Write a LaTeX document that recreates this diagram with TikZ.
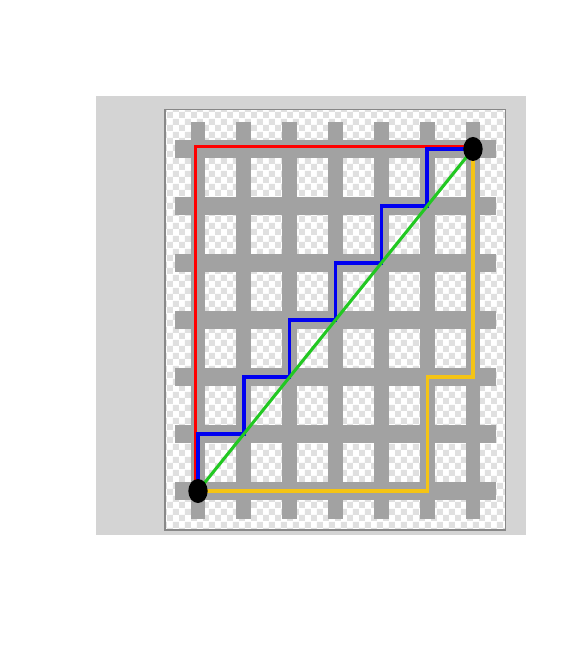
\documentclass[tikz,border=0pt]{standalone}
\usetikzlibrary{patterns.meta}
\definecolor{panelgray}{RGB}{212,212,212}
\definecolor{checkgray}{RGB}{224,224,224}
\definecolor{bargray}{RGB}{162,162,162}
\definecolor{framegray}{RGB}{136,136,136}
\definecolor{pathred}{RGB}{255,0,0}
\definecolor{pathblue}{RGB}{0,0,240}
\definecolor{pathgreen}{RGB}{34,200,34}
\definecolor{pathgold}{RGB}{245,196,20}
\tikzdeclarepattern{
	name=checks,
	type=uncolored,
	bounding box={(0pt,0pt) and (10.24pt,11.1pt)},
	tile size={(10.24pt,11.1pt)},
	code={
		\fill (0pt,0pt) rectangle (5.12pt,5.55pt);
		\fill (5.12pt,5.55pt) rectangle (10.24pt,11.1pt);
	}
}
\tikzset{
	bar/.style={fill=bargray,draw=none},
	route/.style={line width=3pt,line join=miter},
	endpoint/.style={ellipse,fill=black,inner sep=0pt,minimum width=0.58cm,minimum height=0.72cm}
}
\usetikzlibrary{shapes.geometric}
\begin{document}
\begin{tikzpicture}[x=1.375cm,y=1.71cm,scale=1]
	\useasboundingbox (-4.32,-2.807) rectangle (8.422,8.614);
	\fill[panelgray] (-2.226,-0.772) rectangle (7.157,6.93);
	\fill[white] (-0.72,-0.684) rectangle (6.70,6.70);
	\fill[pattern=checks,pattern color=checkgray] (-0.72,-0.684) rectangle (6.70,6.70);
	\draw[framegray,line width=0.9pt] (-0.72,-0.684) rectangle (6.70,6.70);
	% grid of bars
	\foreach \k in {0,...,6}{
		\fill[bar] (\k-0.16,-0.49) rectangle (\k+0.16,6.47);
		\fill[bar] (-0.5,\k-0.15) rectangle (6.5,\k+0.15);
	}
	\coordinate (S) at (0,0);
	\coordinate (T) at (6,6);
	% routes
	\draw[route,pathred] ([xshift=-0.08cm]S) -- ++(0,6.04) -- ++(6.06,0);
	\draw[route,pathgold,line width=2.6pt] (S) -- ++(5,0) -- ++(0,2) -- ++(1,0) -- (T);
	\draw[route,pathblue] (S) -- ++(0,1) -- ++(1,0) -- ++(0,1) -- ++(1,0) -- ++(0,1) -- ++(1,0)
		-- ++(0,1) -- ++(1,0) -- ++(0,1) -- ++(1,0) -- ++(0,1) -- (T);
	\draw[pathgreen,line width=2.6pt] (S) -- (T);
	\node[endpoint] (start) at (S) {};
	\node[endpoint] (goal) at (T) {};
\end{tikzpicture}
\end{document}
